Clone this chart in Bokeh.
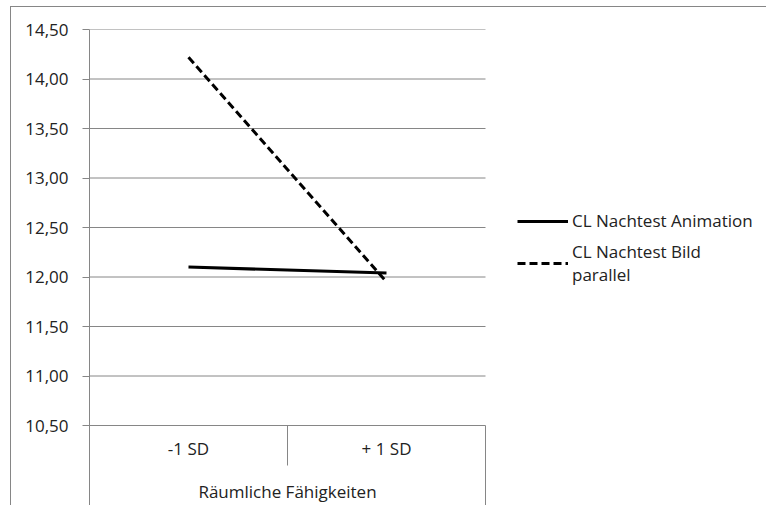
from bokeh.plotting import figure
from bokeh.models import Range1d, FixedTicker, CustomJSTickFormatter, Legend, LegendItem
from bokeh.core.properties import value
from bokeh.embed import file_html
from bokeh.resources import INLINE

# Data
categories = ["-1 SD", "+ 1 SD"]
animation = [12.10, 12.04]
bild_parallel = [14.22, 11.95]
series_names = ["CL Nachtest Animation", "CL Nachtest Bild\nparallel"]
y_ticks = [10.5, 11.0, 11.5, 12.0, 12.5, 13.0, 13.5, 14.0, 14.5]
x_title = "Räumliche Fähigkeiten"

FONT = "Open Sans"
FS = "17px"
GRID = "#868686"
TXT = "#222222"

# Canvas geometry (the host element carries a 1px top/left border)
W, H = 756, 499
LEFT, TOP = 78, 22
PLOT_W = 396          # width of the plotting area holding the categories
CAT_H = 81            # height of the category band below the 10,50 line
PX_PER_UNIT = (H - TOP - CAT_H) / (y_ticks[-1] - y_ticks[0])
PX_PER_CAT = PLOT_W / len(categories)

# The frame runs to the right and bottom edges, so the category band and the
# legend can be drawn inside it; grid and separators stop at the plot area.
y_bottom = y_ticks[0] - CAT_H / PX_PER_UNIT
x_right = (W - LEFT) / PX_PER_CAT

p = figure(width=W, height=H, output_backend="svg", toolbar_location=None,
           x_range=Range1d(0, x_right),
           y_range=Range1d(y_bottom, y_ticks[-1]),
           min_border_left=LEFT, min_border_right=0,
           min_border_top=TOP, min_border_bottom=0)
p.styles = {"margin-left": "10px", "margin-top": "6px",
            "border-left": f"1px solid {GRID}", "border-top": f"1px solid {GRID}"}
p.outline_line_color = None
p.background_fill_color = "white"
p.border_fill_color = "white"
p.xaxis.visible = False
p.xgrid.grid_line_color = None
p.ygrid.grid_line_color = None

n = len(categories)
xs = [i + 0.5 for i in range(n)]

# Y axis
yax = p.yaxis[0]
yax.ticker = FixedTicker(ticks=y_ticks)
yax.formatter = CustomJSTickFormatter(code="return tick.toFixed(2).replace('.', ',');")
yax.axis_line_color = GRID
yax.major_tick_line_color = GRID
yax.major_tick_out = 7
yax.major_tick_in = 0
yax.minor_tick_line_color = None
yax.major_label_standoff = 14
yax.major_label_text_font = FONT
yax.major_label_text_font_size = FS
yax.major_label_text_color = TXT

# Horizontal gridlines across the plot area
p.segment(x0=[0] * len(y_ticks), y0=y_ticks, x1=[n] * len(y_ticks), y1=y_ticks,
          line_color=GRID, line_width=1)

# Category band: separators, labels and title
edges = list(range(n + 1))
sep_bottom = [y_bottom if e in (0, n) else y_ticks[0] - 40 / PX_PER_UNIT for e in edges]
p.segment(x0=edges, y0=[y_ticks[0]] * len(edges), x1=edges, y1=sep_bottom,
          line_color=GRID, line_width=1)
p.text(x=xs, y=[y_ticks[0] - 23 / PX_PER_UNIT] * n, text=categories,
       text_align="center", text_baseline="middle", text_font=value(FONT),
       text_font_size=FS, text_color=TXT)
p.text(x=[n / 2], y=[y_ticks[0] - 66 / PX_PER_UNIT], text=[x_title],
       text_align="center", text_baseline="middle", text_font=value(FONT),
       text_font_size=FS, text_color=TXT)

# Series
r1 = p.line(xs, animation, line_color="black", line_width=3)
r2 = p.line(xs, bild_parallel, line_color="black", line_width=3, line_dash="8 4")

legend = Legend(items=[LegendItem(label=series_names[0], renderers=[r1]),
                       LegendItem(label=series_names[1], renderers=[r2])],
                location=(PLOT_W + 32, 220), orientation="vertical")
legend.glyph_width = 51
legend.glyph_height = 20
legend.label_standoff = 4
legend.spacing = 8
legend.padding = 0
legend.margin = 0
legend.border_line_alpha = 0
legend.background_fill_alpha = 0
legend.label_text_font = FONT
legend.label_text_font_size = FS
legend.label_text_line_height = 1.05
legend.label_text_color = TXT
p.add_layout(legend, "center")

open("out.html", "w").write(file_html(p, INLINE))
